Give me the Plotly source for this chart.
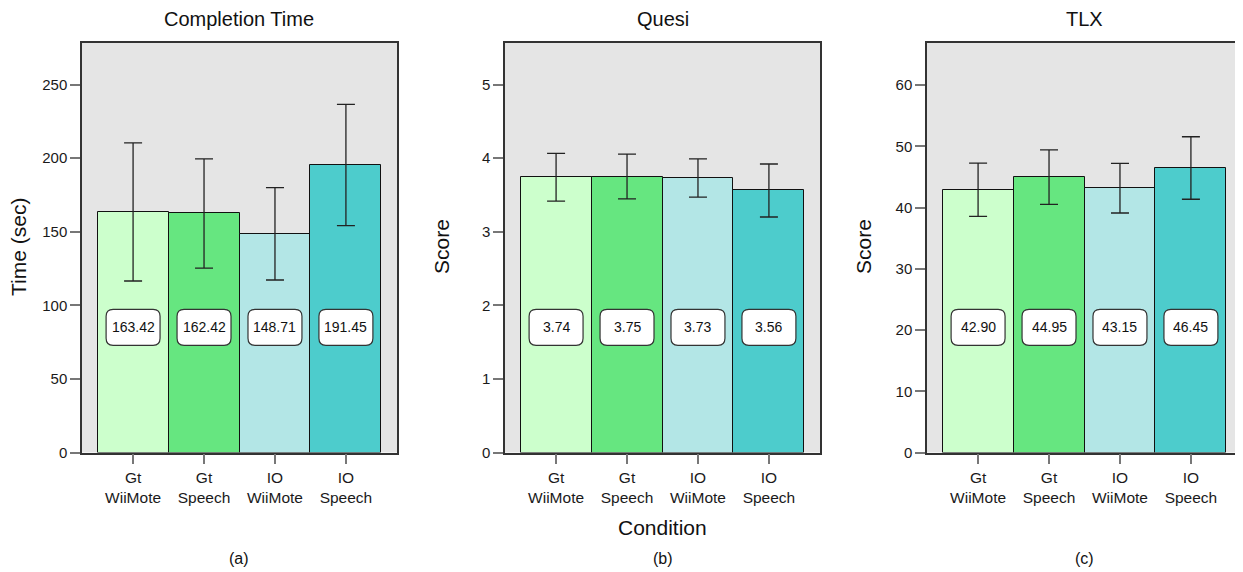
import plotly.graph_objects as go

categories = ["Gt<br>WiiMote", "Gt<br>Speech", "IO<br>WiiMote", "IO<br>Speech"]
colors = ["#CCFFCC", "#66E680", "#B3E6E6", "#4DCCCC"]

titles = ["Completion Time", "Quesi", "TLX"]
ytitles = ["Time (sec)", "Score", "Score"]
sublabels = ["(a)", "(b)", "(c)"]

time_vals = [163.4, 162.4, 148.6, 195.3]
time_err = [46.9, 37.1, 31.4, 41.2]
time_labels = ["163.42", "162.42", "148.71", "191.45"]

quesi_vals = [3.74, 3.75, 3.73, 3.56]
quesi_err = [0.325, 0.305, 0.26, 0.36]
quesi_labels = ["3.74", "3.75", "3.73", "3.56"]

tlx_vals = [42.90, 44.95, 43.15, 46.45]
tlx_err = [4.35, 4.45, 4.05, 5.1]
tlx_labels = ["42.90", "44.95", "43.15", "46.45"]

y_ranges = [[0, 278.2], [0, 5.564], [0, 66.86]]
y_ticks = [[0, 50, 100, 150, 200, 250], [0, 1, 2, 3, 4, 5], [0, 10, 20, 30, 40, 50, 60]]

panels = [
    (time_vals, time_err, time_labels),
    (quesi_vals, quesi_err, quesi_labels),
    (tlx_vals, tlx_err, tlx_labels),
]

# page has an 8px body margin: figure occupies [8, 1243] x [8, 572]
OFF = 8
W, H = 1243 - OFF, 572 - OFF


def fx(px):
    return (px - OFF) / W


def fy(py):
    return 1 - (py - OFF) / H


px_left = [82, 505, 927]
px_w = 315
y_bot, y_top = 452.5, 43.0
ydom = [fy(y_bot), fy(y_top)]

FONT = "Liberation Sans, Arial, Helvetica, sans-serif"

fig = go.Figure()
layout = dict(
    width=W, height=H,
    margin=dict(l=0, r=0, t=0, b=0),
    paper_bgcolor="white",
    plot_bgcolor="#E5E5E5",
    showlegend=False,
    bargap=0,
    font=dict(family=FONT, color="#1a1a1a", size=15),
)
annotations = []
shapes = []
xpos = list(range(len(categories)))

for i, (vals, errs, labels) in enumerate(panels):
    n = "" if i == 0 else str(i + 1)
    xa, ya = "x" + n, "y" + n
    fig.add_trace(go.Bar(
        x=xpos, y=vals, xaxis=xa, yaxis=ya, width=1,
        marker=dict(color=colors, line=dict(color="#111111", width=1)),
        error_y=dict(type="data", array=errs, visible=True, color="#222222",
                     thickness=1.3, width=9),
        hoverinfo="skip",
    ))
    layout["xaxis" + n] = dict(
        domain=[fx(px_left[i]), fx(px_left[i] + px_w)], anchor=ya, range=[-0.72, 3.72],
        tickvals=xpos, ticktext=categories,
        ticks="outside", ticklen=10, tickcolor="#777777", tickwidth=1.5,
        showline=True, mirror=True, linecolor="#333333", linewidth=1.5,
        showgrid=False, zeroline=False, automargin=False,
        tickfont=dict(size=15.5, color="#1a1a1a"),
    )
    layout["yaxis" + n] = dict(
        domain=ydom, anchor=xa, range=y_ranges[i],
        tickvals=y_ticks[i],
        ticks="outside", ticklen=10, tickcolor="#777777", tickwidth=1.5,
        showline=True, mirror=True, linecolor="#333333", linewidth=1.5,
        showgrid=False, zeroline=False, automargin=False,
        tickfont=dict(size=15, color="#1a1a1a"),
    )
    cx = fx(px_left[i] + px_w / 2)
    annotations.append(dict(text=titles[i], x=cx, y=fy(19), xref="paper", yref="paper",
                            showarrow=False, xanchor="center", yanchor="middle",
                            font=dict(size=20, family=FONT, color="#111111")))
    annotations.append(dict(text=sublabels[i], x=cx, y=fy(558), xref="paper", yref="paper",
                            showarrow=False, xanchor="center", yanchor="middle",
                            font=dict(size=16, family=FONT, color="#111111")))
    annotations.append(dict(text=ytitles[i], x=fx(px_left[i] - 63), y=fy(247),
                            xref="paper", yref="paper", textangle=-90,
                            showarrow=False, xanchor="center", yanchor="middle",
                            font=dict(size=21, family=FONT, color="#111111")))
    # rounded value boxes
    yc = 0.3057
    hh = 18 / (y_bot - y_top)
    hw = 27 / 71.0
    rx = 7 / 71.0
    ry = 7 / (y_bot - y_top)
    for k, lab in enumerate(labels):
        xl, xr = k - hw, k + hw
        yb, yt = yc - hh, yc + hh
        path = (f"M {xl + rx},{yb} L {xr - rx},{yb} Q {xr},{yb} {xr},{yb + ry} "
                f"L {xr},{yt - ry} Q {xr},{yt} {xr - rx},{yt} "
                f"L {xl + rx},{yt} Q {xl},{yt} {xl},{yt - ry} "
                f"L {xl},{yb + ry} Q {xl},{yb} {xl + rx},{yb} Z")
        shapes.append(dict(type="path", xref=xa, yref=ya + " domain", path=path,
                           fillcolor="white", line=dict(color="#333333", width=1.2),
                           layer="above"))
        annotations.append(dict(text=lab, x=k, y=yc, xref=xa, yref=ya + " domain",
                                showarrow=False, xanchor="center", yanchor="middle",
                                font=dict(size=14, family=FONT, color="#111111")))

annotations.append(dict(text="Condition", x=fx(px_left[1] + px_w / 2), y=fy(527),
                        xref="paper", yref="paper", showarrow=False,
                        xanchor="center", yanchor="middle",
                        font=dict(size=21, family=FONT, color="#111111")))

layout["annotations"] = annotations
layout["shapes"] = shapes
fig.update_layout(**layout)
fig.write_html("out.html")
